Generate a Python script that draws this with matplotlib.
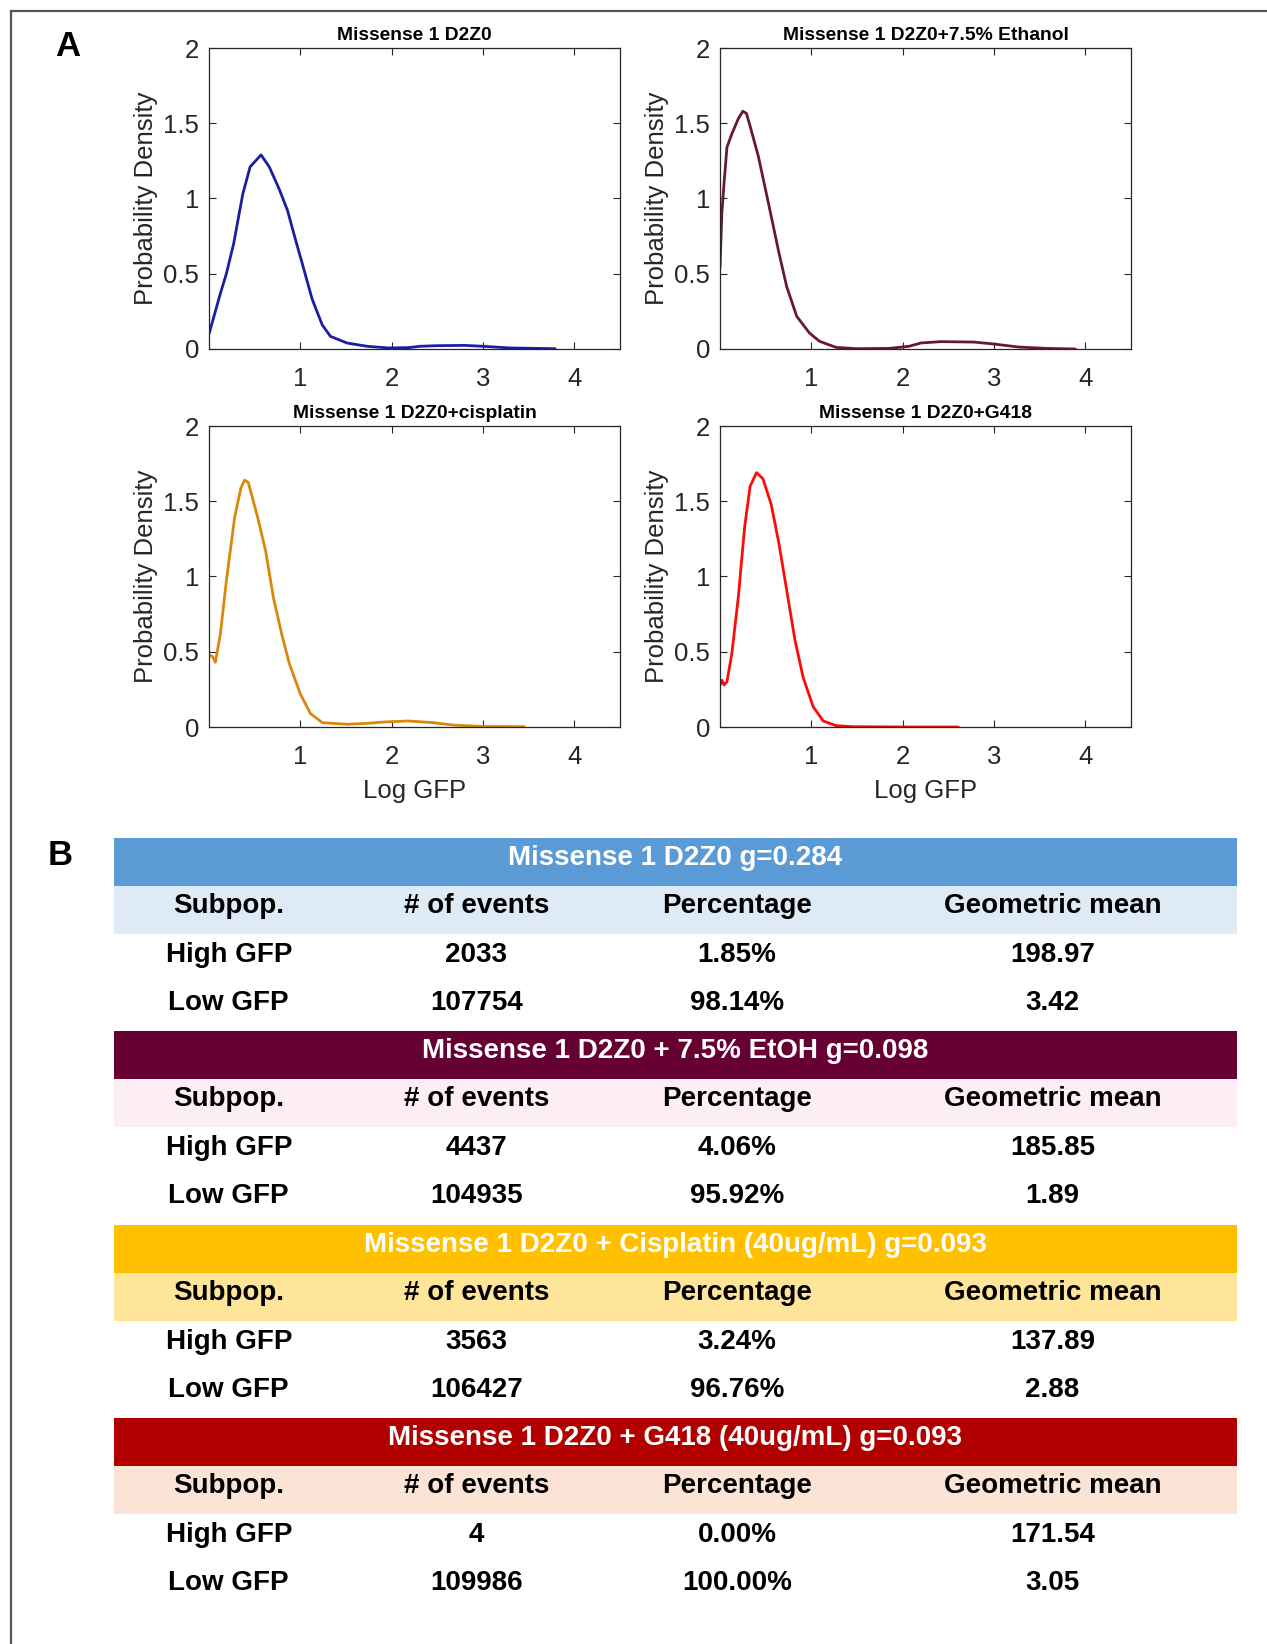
import matplotlib
matplotlib.use("Agg")
import matplotlib.pyplot as plt
from matplotlib.patches import Rectangle
from matplotlib.lines import Line2D

plt.rcParams['font.family'] = ['Liberation Sans', 'DejaVu Sans']

# ---------------- data ----------------
titles = ["Missense 1 D2Z0", "Missense 1 D2Z0+7.5% Ethanol",
          "Missense 1 D2Z0+cisplatin", "Missense 1 D2Z0+G418"]
line_colors = ["#1C1CA4", "#6A1831", "#D9880C", "#FF0A0A"]

x_wt = [0.0, 0.125, 0.19, 0.27, 0.37, 0.45, 0.57, 0.66, 0.77, 0.86, 0.95, 1.02, 1.13,
        1.24, 1.33, 1.51, 1.73, 1.96, 2.18, 2.31, 2.49, 2.80, 3.0, 3.29, 3.79]
y_wt = [0.10, 0.37, 0.50, 0.70, 1.03, 1.21, 1.29, 1.21, 1.06, 0.92, 0.72, 0.57, 0.33,
        0.16, 0.084, 0.04, 0.018, 0.007, 0.009, 0.018, 0.022, 0.024, 0.018, 0.007, 0.002]

x_etoh = [0.0, 0.02, 0.044, 0.076, 0.13, 0.20, 0.25, 0.29, 0.33, 0.42, 0.53, 0.645, 0.73,
          0.84, 0.98, 1.09, 1.27, 1.49, 1.85, 2.07, 2.20, 2.42, 2.78, 3.0, 3.27, 3.58, 3.89]
y_etoh = [0.54, 0.90, 1.10, 1.34, 1.43, 1.53, 1.58, 1.565, 1.48, 1.28, 0.97, 0.64, 0.415,
          0.217, 0.106, 0.051, 0.011, 0.002, 0.004, 0.018, 0.04, 0.049, 0.046, 0.033, 0.013,
          0.004, 0.0]

x_cis = [0.0, 0.036, 0.07, 0.125, 0.19, 0.28, 0.35, 0.39, 0.43, 0.53, 0.62, 0.705, 0.795,
         0.88, 1.0, 1.11, 1.24, 1.51, 1.73, 1.91, 2.18, 2.45, 2.67, 2.98, 3.45]
y_cis = [0.477, 0.47, 0.43, 0.62, 0.97, 1.39, 1.59, 1.64, 1.625, 1.40, 1.17, 0.86, 0.62,
         0.42, 0.22, 0.09, 0.029, 0.018, 0.024, 0.033, 0.04, 0.029, 0.013, 0.004, 0.002]

x_g418 = [0.0, 0.022, 0.044, 0.076, 0.13, 0.20, 0.27, 0.33, 0.40, 0.47, 0.56, 0.645, 0.73,
          0.82, 0.91, 1.02, 1.13, 1.27, 1.45, 2.11, 2.61]
y_g418 = [0.278, 0.31, 0.28, 0.30, 0.49, 0.86, 1.33, 1.60, 1.69, 1.65, 1.48, 1.22, 0.91,
          0.58, 0.33, 0.135, 0.04, 0.009, 0.002, 0.0, 0.0]

xs = [x_wt, x_etoh, x_cis, x_g418]
ys = [y_wt, y_etoh, y_cis, y_g418]

x_ticks = [1, 2, 3, 4]
y_ticks = [0, 0.5, 1, 1.5, 2]
y_ticklabels = ["0", "0.5", "1", "1.5", "2"]

table_titles = ["Missense 1 D2Z0 g=0.284",
                "Missense 1 D2Z0 + 7.5% EtOH g=0.098",
                "Missense 1 D2Z0 + Cisplatin (40ug/mL) g=0.093",
                "Missense 1 D2Z0 + G418 (40ug/mL) g=0.093"]
col_headers = ["Subpop.", "# of events", "Percentage", "Geometric mean"]
subpops = ["High GFP", "Low GFP"]
n_events = [["2033", "107754"], ["4437", "104935"], ["3563", "106427"], ["4", "109986"]]
percentages = [["1.85%", "98.14%"], ["4.06%", "95.92%"], ["3.24%", "96.76%"], ["0.00%", "100.00%"]]
geo_means = [["198.97", "3.42"], ["185.85", "1.89"], ["137.89", "2.88"], ["171.54", "3.05"]]
header_colors = ["#5B9BD5", "#660033", "#FFC000", "#B20000"]
subheader_colors = ["#DEEAF6", "#FDEEF4", "#FFE599", "#FBE4D5"]

# ---------------- figure ----------------
W, H = 1267, 1644
fig = plt.figure(figsize=(W / 100, H / 100), dpi=100)


def fx(px):
    return px / W


def fy(py):
    return 1 - py / H


# border (top and left)
fig.add_artist(Line2D([fx(11), 1.0], [fy(11), fy(11)], color="#555555", lw=1.6))
fig.add_artist(Line2D([fx(11), fx(11)], [fy(11), 0.0], color="#555555", lw=1.6))

fig.text(fx(68), fy(47), "A", fontsize=25, fontweight="bold", ha="center", va="center")
fig.text(fx(60), fy(855), "B", fontsize=25, fontweight="bold", ha="center", va="center")

ax_boxes = [(209, 48), (720, 48), (209, 426), (720, 426)]
ax_w, ax_h = 411, 301
tick_color = "#262626"

for i, (lx, ty) in enumerate(ax_boxes):
    ax = fig.add_axes([fx(lx), fy(ty + ax_h), ax_w / W, ax_h / H])
    ax.plot(xs[i], ys[i], color=line_colors[i], lw=2.0,
            solid_joinstyle="round", solid_capstyle="round")
    ax.set_xlim(0, 4.5)
    ax.set_ylim(0, 2)
    ax.set_xticks(x_ticks)
    ax.set_xticklabels([str(t) for t in x_ticks])
    ax.set_yticks(y_ticks)
    ax.set_yticklabels(y_ticklabels)
    ax.tick_params(direction="in", top=True, right=True, length=5, width=0.8,
                   labelsize=18.5, colors=tick_color)
    ax.tick_params(axis="x", pad=13)
    ax.tick_params(axis="y", pad=7)
    for sp in ax.spines.values():
        sp.set_color(tick_color)
        sp.set_linewidth(0.9)
    ax.set_title(titles[i], fontsize=13.9, fontweight="bold", pad=6)
    ax.set_ylabel("Probability Density", fontsize=18.5, color=tick_color, labelpad=4)
    if i >= 2:
        ax.set_xlabel("Log GFP", fontsize=18.5, color=tick_color, labelpad=7)

# ---------------- tables ----------------
tab_left, tab_right = 114.3, 1236.5
tab_w = tab_right - tab_left
row_h = 48.2
block_tops = [838.0, 1031.0, 1225.0, 1418.0]
col_fracs = [0.102, 0.3225, 0.555, 0.836]

tax = fig.add_axes([0, 0, 1, 1])
tax.set_xlim(0, W)
tax.set_ylim(H, 0)
tax.axis("off")
tax.patch.set_alpha(0)

for b in range(4):
    top = block_tops[b]
    tax.add_patch(Rectangle((tab_left, top), tab_w, row_h, color=header_colors[b], lw=0))
    tax.add_patch(Rectangle((tab_left, top + row_h), tab_w, row_h, color=subheader_colors[b], lw=0))
    tax.text(tab_left + tab_w / 2, top + row_h / 2 - 4, table_titles[b], color="white",
             fontsize=20, fontweight="bold", ha="center", va="center")
    rows = [col_headers]
    for r in range(2):
        rows.append([subpops[r], n_events[b][r], percentages[b][r], geo_means[b][r]])
    for r, vals in enumerate(rows):
        yc = top + row_h * (r + 1) + row_h / 2 - 4
        for c, v in enumerate(vals):
            tax.text(tab_left + col_fracs[c] * tab_w, yc, v, color="black",
                     fontsize=20, fontweight="bold", ha="center", va="center")

fig.savefig("out.png", dpi=100)
